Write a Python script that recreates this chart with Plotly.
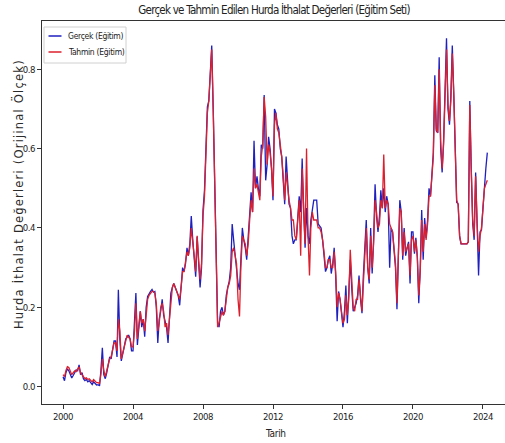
import pandas as pd
import plotly.graph_objects as go

# Monthly observations, Jan 2000 - Apr 2024
dates = pd.date_range("2000-01-01", periods=292, freq="MS")

actual = [
    # 2000
    0.025, 0.015, 0.035, 0.045, 0.04, 0.03, 0.022, 0.028, 0.035, 0.042, 0.04, 0.055,
    # 2001
    0.03, 0.035, 0.02, 0.015, 0.018, 0.012, 0.015, 0.01, 0.005, 0.012, 0.008, 0.004,
    # 2002
    0.005, 0.002, 0.04, 0.098, 0.03, 0.02, 0.035, 0.055, 0.075, 0.07, 0.095, 0.115,
    # 2003
    0.115, 0.075, 0.244, 0.12, 0.065, 0.08, 0.1, 0.12, 0.126, 0.13, 0.12, 0.09,
    # 2004
    0.09, 0.15, 0.236, 0.105, 0.16, 0.19, 0.15, 0.17, 0.126, 0.2, 0.227, 0.235,
    # 2005
    0.24, 0.245, 0.238, 0.24, 0.2, 0.11, 0.17, 0.19, 0.22, 0.18, 0.16, 0.15,
    # 2006
    0.11, 0.18, 0.236, 0.25, 0.26, 0.25, 0.24, 0.23, 0.205, 0.26, 0.3, 0.29,
    # 2007
    0.31, 0.35, 0.33, 0.36, 0.43, 0.37, 0.32, 0.277, 0.378, 0.31, 0.25, 0.3,
    # 2008
    0.445, 0.495, 0.6, 0.705, 0.72, 0.79, 0.86, 0.7, 0.52, 0.34, 0.16, 0.15,
    # 2009
    0.19, 0.2, 0.18, 0.19, 0.23, 0.25, 0.265, 0.3, 0.41, 0.37, 0.33, 0.3,
    # 2010
    0.26, 0.244, 0.33, 0.4, 0.37, 0.35, 0.32, 0.38, 0.43, 0.49, 0.44, 0.62,
    # 2011
    0.5, 0.53, 0.5, 0.48, 0.61, 0.6, 0.735, 0.52, 0.56, 0.63, 0.6, 0.55,
    # 2012
    0.47, 0.7, 0.69, 0.66, 0.65, 0.6, 0.58, 0.52, 0.46, 0.58, 0.5, 0.46,
    # 2013
    0.45, 0.38, 0.36, 0.37, 0.37, 0.43, 0.48, 0.44, 0.575, 0.45, 0.35, 0.45,
    # 2014
    0.38, 0.36, 0.42, 0.445, 0.47, 0.47, 0.47, 0.41, 0.405, 0.4, 0.37, 0.33,
    # 2015
    0.29, 0.3, 0.32, 0.33, 0.285, 0.31, 0.35, 0.28, 0.165, 0.24, 0.22, 0.185,
    # 2016
    0.15, 0.19, 0.255, 0.16, 0.24, 0.32, 0.25, 0.19, 0.2, 0.21, 0.23, 0.28,
    # 2017
    0.22, 0.185, 0.28, 0.345, 0.42, 0.3, 0.26, 0.4, 0.285, 0.37, 0.51, 0.43,
    # 2018
    0.39, 0.43, 0.495, 0.45, 0.5, 0.44, 0.48, 0.46, 0.3, 0.4, 0.39, 0.345,
    # 2019
    0.3, 0.195, 0.35, 0.47, 0.44, 0.32, 0.4, 0.33, 0.35, 0.365, 0.26, 0.39,
    # 2020
    0.39, 0.335, 0.375, 0.325, 0.21, 0.3, 0.445, 0.32, 0.425, 0.375, 0.42, 0.5,
    # 2021
    0.48, 0.55, 0.59, 0.785, 0.645, 0.64, 0.83, 0.6, 0.54, 0.62, 0.75, 0.878,
    # 2022
    0.7, 0.66, 0.73, 0.86, 0.74, 0.585, 0.465, 0.46, 0.378, 0.36, 0.36, 0.36,
    # 2023
    0.36, 0.36, 0.365, 0.72, 0.55, 0.41, 0.37, 0.54, 0.41, 0.28, 0.39, 0.395,
    # 2024
    0.45, 0.515, 0.55, 0.59,
]

predicted = [
    # 2000
    0.03, 0.025, 0.04, 0.05, 0.048, 0.04, 0.03, 0.035, 0.04, 0.038, 0.045, 0.05,
    # 2001
    0.035, 0.03, 0.025, 0.02, 0.022, 0.018, 0.02, 0.015, 0.012, 0.018, 0.015, 0.01,
    # 2002
    0.01, 0.008, 0.03, 0.07, 0.04, 0.025, 0.04, 0.06, 0.07, 0.075, 0.09, 0.11,
    # 2003
    0.11, 0.09, 0.17, 0.14, 0.07, 0.085, 0.105, 0.12, 0.13, 0.125, 0.12, 0.1,
    # 2004
    0.1, 0.14, 0.21, 0.12, 0.15, 0.19, 0.16, 0.17, 0.14, 0.19, 0.22, 0.23,
    # 2005
    0.235, 0.24, 0.24, 0.235, 0.21, 0.14, 0.16, 0.2, 0.21, 0.19, 0.15, 0.16,
    # 2006
    0.13, 0.17, 0.22, 0.25, 0.26, 0.25, 0.245, 0.235, 0.22, 0.25, 0.29, 0.29,
    # 2007
    0.31, 0.34, 0.33, 0.35, 0.4, 0.37, 0.33, 0.29, 0.38, 0.32, 0.27, 0.31,
    # 2008
    0.43, 0.48, 0.6, 0.69, 0.72, 0.78, 0.85, 0.7, 0.52, 0.34, 0.15, 0.16,
    # 2009
    0.18, 0.19, 0.18, 0.19, 0.22, 0.25, 0.26, 0.28, 0.34, 0.35, 0.33, 0.31,
    # 2010
    0.22, 0.177, 0.3, 0.38, 0.37, 0.36, 0.33, 0.36, 0.42, 0.47, 0.44, 0.55,
    # 2011
    0.5, 0.51, 0.49, 0.47, 0.58, 0.61, 0.73, 0.68, 0.56, 0.61, 0.59, 0.55,
    # 2012
    0.48, 0.66, 0.69, 0.65, 0.64, 0.61, 0.58, 0.53, 0.47, 0.54, 0.5, 0.47,
    # 2013
    0.45, 0.42, 0.42, 0.38, 0.37, 0.42, 0.47, 0.33, 0.55, 0.45, 0.36, 0.6,
    # 2014
    0.38, 0.28, 0.4, 0.44, 0.42, 0.42, 0.42, 0.4, 0.4, 0.39, 0.37, 0.34,
    # 2015
    0.3, 0.3, 0.32, 0.32, 0.3, 0.3, 0.34, 0.29, 0.2, 0.236, 0.22, 0.19,
    # 2016
    0.16, 0.17, 0.23, 0.18, 0.22, 0.345, 0.25, 0.2, 0.19, 0.22, 0.22, 0.27,
    # 2017
    0.23, 0.19, 0.26, 0.34, 0.4, 0.3, 0.27, 0.38, 0.3, 0.36, 0.47, 0.44,
    # 2018
    0.4, 0.41, 0.47, 0.45, 0.585, 0.45, 0.47, 0.46, 0.41, 0.4, 0.39, 0.35,
    # 2019
    0.31, 0.21, 0.33, 0.45, 0.44, 0.33, 0.39, 0.34, 0.35, 0.36, 0.28, 0.37,
    # 2020
    0.38, 0.34, 0.37, 0.33, 0.23, 0.29, 0.42, 0.34, 0.41, 0.37, 0.41, 0.48,
    # 2021
    0.48, 0.53, 0.58, 0.76, 0.65, 0.64, 0.8, 0.62, 0.55, 0.61, 0.73, 0.85,
    # 2022
    0.71, 0.67, 0.72, 0.84, 0.74, 0.59, 0.47, 0.46, 0.38, 0.36, 0.36, 0.36,
    # 2023
    0.36, 0.36, 0.365, 0.71, 0.55, 0.42, 0.38, 0.53, 0.41, 0.34, 0.38, 0.4,
    # 2024
    0.45, 0.5, 0.51, 0.52,
]

tick_years = [2000, 2004, 2008, 2012, 2016, 2020, 2024]
y_ticks = [0.0, 0.2, 0.4, 0.6, 0.8]

BLUE = "#1f1fbf"
RED = "#dc1f2d"
FONT = "Liberation Sans Narrow, DejaVu Sans Condensed, Arial Narrow, sans-serif"
TEXT = "#222222"
AXIS = "#333333"


def spaced(text, px):
    """Wrap text in a span with the given letter spacing (in px)."""
    return f'<span style="letter-spacing:{px}px">{text}</span>'


fig = go.Figure()
fig.add_trace(go.Scatter(x=dates, y=actual, mode="lines", name="Gerçek (Eğitim)",
                         line=dict(color=BLUE, width=1.3)))
fig.add_trace(go.Scatter(x=dates, y=predicted, mode="lines", name="Tahmin (Eğitim)",
                         line=dict(color=RED, width=1.3)))

fig.update_layout(
    width=505, height=443,
    margin=dict(l=42, r=0, t=21, b=39),
    paper_bgcolor="white", plot_bgcolor="white",
    showlegend=False,
    font=dict(family=FONT, color=TEXT, size=10),
    title=dict(text=spaced("Gerçek ve Tahmin Edilen Hurda İthalat Değerleri (Eğitim Seti)", -0.75),
               x=274 / 505, y=1 - 10 / 443, xanchor="center", yanchor="middle",
               xref="container", yref="container",
               font=dict(family=FONT, size=11.5, color=TEXT)),
    xaxis=dict(
        type="date", range=["1998-10-19", "2025-04-05"],
        tickvals=[f"{y}-01-01" for y in tick_years],
        ticktext=[spaced(str(y), -0.4) for y in tick_years],
        showgrid=False, zeroline=False,
        showline=True, linecolor=AXIS, linewidth=1, mirror=True,
        ticks="outside", ticklen=4, tickcolor=AXIS, tickwidth=1,
        tickfont=dict(family=FONT, size=9.5, color=TEXT),
    ),
    yaxis=dict(
        range=[-0.0438, 0.9217],
        tickvals=y_ticks, ticktext=[spaced(f"{v:.1f}", -0.4) for v in y_ticks],
        showgrid=False, zeroline=False,
        showline=True, linecolor=AXIS, linewidth=1, mirror=False,
        ticks="outside", ticklen=4, tickcolor=AXIS, tickwidth=1,
        tickfont=dict(family=FONT, size=9.5, color=TEXT),
    ),
)


def px_x(p):
    """Horizontal pixel position -> paper coordinate of the plot area."""
    return (p - 42) / 463


def px_y(p):
    """Vertical pixel position -> paper coordinate of the plot area."""
    return (404 - p) / 383


# axis titles
fig.add_annotation(text=spaced("Tarih", -0.3), xref="paper", yref="paper",
                   x=px_x(275), y=px_y(433),
                   xanchor="center", yanchor="middle", showarrow=False,
                   font=dict(family=FONT, size=10, color=TEXT))
fig.add_annotation(text=spaced("Hurda İthalat Değerleri (Orijinal Ölçek)", 1.2),
                   xref="paper", yref="paper",
                   x=px_x(18), y=px_y(194), textangle=-90,
                   xanchor="center", yanchor="middle", showarrow=False,
                   font=dict(family="DejaVu Sans", size=11.5, color="#2a2a2a"))

# legend box
fig.add_shape(type="rect", xref="paper", yref="paper",
              x0=px_x(44), x1=px_x(126), y0=px_y(63), y1=px_y(27),
              line=dict(color="#d0d0d0", width=1), fillcolor="rgba(255,255,255,0.8)", layer="above")
for name, color, yc in [("Gerçek (Eğitim)", BLUE, 36), ("Tahmin (Eğitim)", RED, 52)]:
    fig.add_shape(type="line", xref="paper", yref="paper",
                  x0=px_x(48.5), x1=px_x(61.5), y0=px_y(yc), y1=px_y(yc),
                  line=dict(color=color, width=1.5), layer="above")
    fig.add_annotation(text=spaced(name, -0.3), xref="paper", yref="paper",
                       x=px_x(66), y=px_y(yc), xanchor="left", yanchor="middle",
                       showarrow=False, font=dict(family=FONT, size=8.5, color=TEXT))

fig.write_html("out.html")
